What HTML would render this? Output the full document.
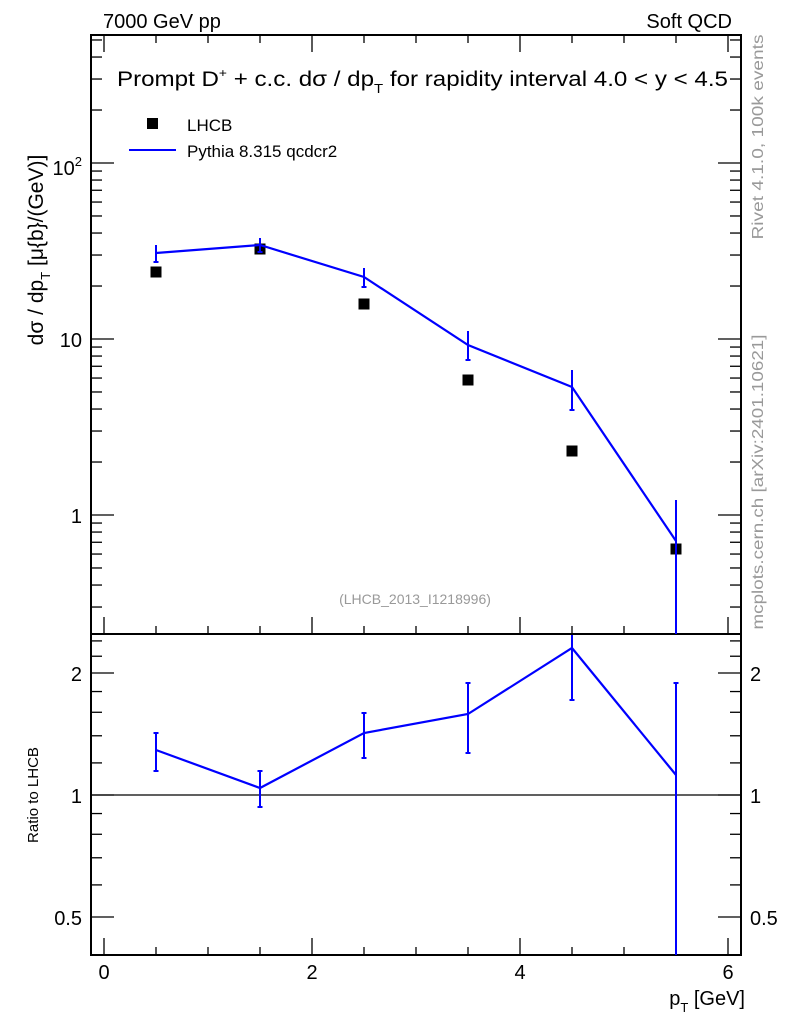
<!DOCTYPE html>
<html><head><meta charset="utf-8"><style>
html,body{margin:0;padding:0;background:#fff;}
svg{display:block;font-family:"Liberation Sans",sans-serif;}
</style></head><body>
<svg id="s" width="786" height="1024" xmlns="http://www.w3.org/2000/svg">
<rect width="786" height="1024" fill="#fff"/>
<g id="ticks" stroke="#000" stroke-width="1.3"></g>
<rect x="91" y="35" width="650" height="599" fill="none" stroke="#000" stroke-width="2"/>
<rect x="91" y="634" width="650" height="321" fill="none" stroke="#000" stroke-width="2"/>
<line x1="91" y1="795" x2="741" y2="795" stroke="#000" stroke-width="1.2"/>
<text x="103" y="28" font-size="20">7000 GeV pp</text>
<text x="732" y="28" font-size="20" text-anchor="end">Soft QCD</text>
<text x="117" y="86" font-size="21" textLength="611" lengthAdjust="spacingAndGlyphs">Prompt D<tspan font-size="12" dy="-9">+</tspan><tspan dy="9"> + c.c.  dσ / dp</tspan><tspan font-size="13" dy="7">T</tspan><tspan dy="-7"> for rapidity interval 4.0 &lt; y &lt; 4.5</tspan></text>
<rect x="147" y="118" width="11" height="11" fill="#000"/>
<text x="187" y="131" font-size="17">LHCB</text>
<line x1="129" y1="150" x2="176" y2="150" stroke="#00f" stroke-width="2"/>
<text x="187" y="157" font-size="17">Pythia 8.315 qcdcr2</text>
<text x="415" y="604" font-size="14" fill="#999" text-anchor="middle">(LHCB_2013_I1218996)</text>
<text transform="translate(43,250) rotate(-90)" font-size="21" text-anchor="middle">dσ / dp<tspan font-size="13" dy="7">T</tspan><tspan dy="-7"> [μ{b}/(GeV)]</tspan></text>
<text transform="translate(38,795) rotate(-90)" font-size="15" text-anchor="middle">Ratio to LHCB</text>
<text transform="translate(763,137) rotate(-90)" font-size="16" fill="#999" text-anchor="middle" textLength="205" lengthAdjust="spacingAndGlyphs">Rivet 4.1.0,  100k events</text>
<text transform="translate(763,482) rotate(-90)" font-size="16" fill="#999" text-anchor="middle" textLength="295" lengthAdjust="spacingAndGlyphs">mcplots.cern.ch [arXiv:2401.10621]</text>
<g font-size="20">
<text x="82" y="175" text-anchor="end">10<tspan font-size="13" dy="-9">2</tspan></text>
<text x="82" y="347" text-anchor="end">10</text>
<text x="82" y="523" text-anchor="end">1</text>
<text x="82" y="681" text-anchor="end">2</text>
<text x="82" y="803" text-anchor="end">1</text>
<text x="82" y="925" text-anchor="end">0.5</text>
<text x="750" y="681">2</text>
<text x="750" y="803">1</text>
<text x="750" y="925">0.5</text>
<text x="104" y="979" text-anchor="middle">0</text>
<text x="312" y="979" text-anchor="middle">2</text>
<text x="520" y="979" text-anchor="middle">4</text>
<text x="728" y="979" text-anchor="middle">6</text>
<text x="745" y="1005" text-anchor="end">p<tspan font-size="13" dy="7">T</tspan><tspan dy="-7"> [GeV]</tspan></text>
</g>
<g id="data"></g>
</svg>
<script>
var NS="http://www.w3.org/2000/svg";
function X(v){return 104+104*v;}
function Y(v){return 515-176*Math.log10(v);}
function R(v){return 795-122*Math.log2(v);}
var t=document.getElementById("ticks"),d=document.getElementById("data");
function L(g,x1,y1,x2,y2,c,w){var e=document.createElementNS(NS,"line");e.setAttribute("x1",x1);e.setAttribute("y1",y1);e.setAttribute("x2",x2);e.setAttribute("y2",y2);if(c)e.setAttribute("stroke",c);if(w)e.setAttribute("stroke-width",w);g.appendChild(e);}
for(var i=0;i<=12;i++){var v=i*0.5,x=X(v),len=(i%4==0)?17:8;
 [[35,1],[634,-1],[955,-1]].forEach(function(p){L(t,x,p[0],x,p[0]+p[1]*len);});}
for(var k=-1;k<=2;k++)for(var m=1;m<=9;m++){var v=m*Math.pow(10,k);var y=Y(v);if(y<36||y>633)continue;var len=m==1?23:11;L(t,91,y,91+len,y);L(t,741,y,741-len,y);}
[0.4,0.5,0.6,0.7,0.8,0.9,1,1.2,1.4,1.6,1.8,2,2.2,2.4].forEach(function(v){var y=R(v);if(y<635||y>954)return;var len=(v==0.5||v==1||v==2)?23:11;L(t,91,y,91+len,y);L(t,741,y,741-len,y);});
[[0.5,272],[1.5,249],[2.5,304],[3.5,380],[4.5,451],[5.5,549]].forEach(function(p){var r=document.createElementNS(NS,"rect");r.setAttribute("x",X(p[0])-5.5);r.setAttribute("y",p[1]-5.5);r.setAttribute("width",11);r.setAttribute("height",11);d.appendChild(r);});
var py=[[0.5,253,245,262],[1.5,245,238,252],[2.5,277,268,287],[3.5,345,331,360],[4.5,387,370,410],[5.5,541,500,634]];
var rt=[[0.5,750,733,771],[1.5,788,771,807],[2.5,733,713,758],[3.5,714,683,753],[4.5,648,635,700],[5.5,775,683,955]];
[py,rt].forEach(function(arr){var pts=arr.map(function(p){return X(p[0])+","+p[1];}).join(" ");
 var pl=document.createElementNS(NS,"polyline");pl.setAttribute("points",pts);pl.setAttribute("fill","none");pl.setAttribute("stroke","#00f");pl.setAttribute("stroke-width","2.2");d.appendChild(pl);
 arr.forEach(function(p){var x=X(p[0]);L(d,x,p[2],x,p[3],"#00f",2);if(p[2]>636)L(d,x-2.5,p[2],x+2.5,p[2],"#00f",2);if(p[3]<633||(p[3]<950&&p[3]>636))L(d,x-2.5,p[3],x+2.5,p[3],"#00f",2);});});
</script>
</body></html>
